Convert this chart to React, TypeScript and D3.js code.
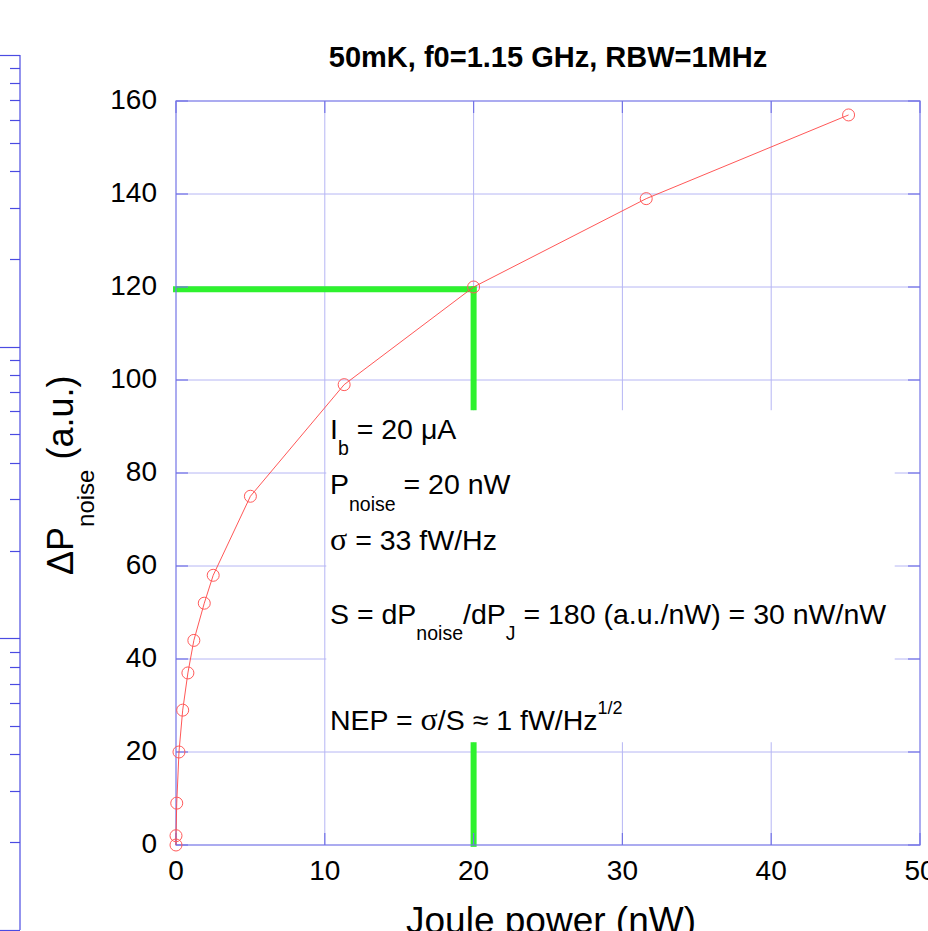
import React, { useEffect, useRef } from 'react'
import * as d3 from 'd3'

// Joule power (nW) vs change in noise power (a.u.)
const joulePower = [0, 0, 0.05, 0.2, 0.45, 0.8, 1.2, 1.9, 2.5, 5.0, 11.3, 20.0, 31.6, 45.2]
const deltaPnoise = [0, 2, 9, 20, 29, 37, 44, 52, 58, 75, 99, 120, 139, 157]

const xTicks = [0, 10, 20, 30, 40, 50]
const yTicks = [0, 20, 40, 60, 80, 100, 120, 140, 160]

// operating point marked in green
const markX = 20
const markY = 119.5

const title = '50mK, f0=1.15 GHz, RBW=1MHz'

const W = 928
const H = 931
const FONT = '"Liberation Sans", Arial, Helvetica, sans-serif'
const SYMBOL = '"Liberation Serif", "Times New Roman", serif'

export default function App() {
  const ref = useRef(null)

  useEffect(() => {
    const svg = d3.select(ref.current)
    svg.selectAll('*').remove()

    const x = d3.scaleLinear().domain([0, 50]).range([176, 920])
    const y = d3.scaleLinear().domain([0, 160]).range([845, 101])

    // leftover log axis of the neighbouring plot
    const logY = d3.scaleLog().domain([1, 1000]).range([930, 55])
    const left = svg.append('g').attr('stroke', '#4b4be2').attr('stroke-width', 1.2)
    left.append('line').attr('x1', 20).attr('x2', 20).attr('y1', logY(1000)).attr('y2', logY(1))
    logY.ticks().forEach(t => {
      const major = Math.abs(Math.log10(t) % 1) < 1e-9
      left.append('line')
        .attr('x1', major ? 0 : 10).attr('x2', 20)
        .attr('y1', Math.round(logY(t)) + 0.5).attr('y2', Math.round(logY(t)) + 0.5)
    })

    // grid
    const grid = svg.append('g').attr('stroke', '#b6b6f4').attr('stroke-width', 1)
    xTicks.slice(1, -1).forEach(t => {
      grid.append('line').attr('x1', x(t)).attr('x2', x(t)).attr('y1', y(0)).attr('y2', y(160))
    })
    yTicks.slice(1, -1).forEach(t => {
      grid.append('line').attr('x1', x(0)).attr('x2', x(50)).attr('y1', y(t)).attr('y2', y(t))
    })

    // white box behind the annotation
    svg.append('rect')
      .attr('x', x(10.1)).attr('y', y(93.5))
      .attr('width', x(48.3) - x(10.1)).attr('height', y(22.1) - y(93.5))
      .attr('fill', '#fff')

    // green markers
    const green = svg.append('g').attr('stroke', '#2ef22e').attr('stroke-width', 6).attr('fill', 'none')
    green.append('path')
      .attr('d', `M${x(-0.2)},${y(markY)}H${x(markX) + 3}`)
    green.append('line')
      .attr('x1', x(markX)).attr('x2', x(markX)).attr('y1', y(markY) - 3).attr('y2', y(93.5))
    green.append('line')
      .attr('x1', x(markX)).attr('x2', x(markX)).attr('y1', y(22.1)).attr('y2', y(-0.4))

    // frame and inner ticks
    const frame = svg.append('g').attr('stroke', '#7474e6').attr('stroke-width', 1.2).attr('fill', 'none')
    frame.append('rect')
      .attr('x', x(0)).attr('y', y(160)).attr('width', x(50) - x(0)).attr('height', y(0) - y(160))
    xTicks.forEach(t => {
      frame.append('line').attr('x1', x(t)).attr('x2', x(t)).attr('y1', y(0)).attr('y2', y(0) - 12)
      frame.append('line').attr('x1', x(t)).attr('x2', x(t)).attr('y1', y(160)).attr('y2', y(160) + 12)
    })
    yTicks.forEach(t => {
      frame.append('line').attr('x1', x(0)).attr('x2', x(0) + 12).attr('y1', y(t)).attr('y2', y(t))
      frame.append('line').attr('x1', x(50)).attr('x2', x(50) - 12).attr('y1', y(t)).attr('y2', y(t))
    })

    // data
    const pts = joulePower.map((p, i) => [p, deltaPnoise[i]])
    svg.append('path')
      .datum(pts)
      .attr('fill', 'none')
      .attr('stroke', '#ff4444')
      .attr('stroke-width', 0.9)
      .attr('d', d3.line().x(d => x(d[0])).y(d => y(d[1])))
    svg.append('g')
      .selectAll('circle')
      .data(pts)
      .join('circle')
      .attr('cx', d => x(d[0]))
      .attr('cy', d => y(d[1]))
      .attr('r', 6)
      .attr('fill', 'none')
      .attr('stroke', '#ff5a5a')
      .attr('stroke-width', 1)

    // tick labels
    const labels = svg.append('g').attr('font-family', FONT).attr('font-size', 28).attr('fill', '#000')
    xTicks.forEach(t => {
      labels.append('text').attr('x', x(t)).attr('y', 880).attr('text-anchor', 'middle').text(t)
    })
    yTicks.forEach(t => {
      labels.append('text').attr('x', 157).attr('y', y(t) + 8).attr('text-anchor', 'end').text(t)
    })

    // title
    svg.append('text')
      .attr('x', 548).attr('y', 67)
      .attr('text-anchor', 'middle')
      .attr('font-family', FONT).attr('font-weight', 'bold').attr('font-size', 29)
      .text(title)

    // axis titles
    svg.append('text')
      .attr('x', 551).attr('y', 933)
      .attr('text-anchor', 'middle')
      .attr('font-family', FONT).attr('font-size', 37)
      .text('Joule power (nW)')

    const yt = svg.append('text')
      .attr('transform', 'translate(73,575) rotate(-90)')
      .attr('font-family', FONT).attr('font-size', 36)
    yt.append('tspan').text('ΔP')
    yt.append('tspan').attr('font-size', 24).attr('dy', 21).text('noise')
    yt.append('tspan').attr('dy', -21).text(' (a.u.)')

    // annotation
    const ann = svg.append('g').attr('font-family', FONT).attr('font-size', 28.5).attr('fill', '#000')
    const ax = x(0) + 154
    const sub = 19.5

    const l1 = ann.append('text').attr('x', ax).attr('y', y(87.3))
    l1.append('tspan').text('I')
    l1.append('tspan').attr('font-size', sub).attr('dy', 16).text('b')
    l1.append('tspan').attr('dy', -16).text(' = 20 μA')

    const l2 = ann.append('text').attr('x', ax).attr('y', y(75.5))
    l2.append('tspan').text('P')
    l2.append('tspan').attr('font-size', sub).attr('dy', 17).text('noise')
    l2.append('tspan').attr('dy', -17).text(' = 20 nW')

    const l3 = ann.append('text').attr('x', ax).attr('y', y(63.4))
    l3.append('tspan').attr('font-family', SYMBOL).attr('font-size', 32).text('σ')
    l3.append('tspan').text(' = 33 fW/Hz')

    const l4 = ann.append('text').attr('x', ax).attr('y', y(47.6))
    l4.append('tspan').text('S = dP')
    l4.append('tspan').attr('font-size', sub).attr('dy', 16).text('noise')
    l4.append('tspan').attr('dy', -16).text('/dP')
    l4.append('tspan').attr('font-size', sub).attr('dy', 16).text('J')
    l4.append('tspan').attr('dy', -16).text(' = 180 (a.u./nW) = 30 nW/nW')

    const l5 = ann.append('text').attr('x', ax).attr('y', y(24.7))
    l5.append('tspan').text('NEP = ')
    l5.append('tspan').attr('font-family', SYMBOL).attr('font-size', 32).text('σ')
    l5.append('tspan').text('/S ≈ 1 fW/Hz')
    l5.append('tspan').attr('font-size', 18).attr('dy', -16).text('1/2')
  }, [])

  return (
    <svg
      ref={ref}
      width={W}
      height={H}
      style={{ position: 'absolute', left: 0, top: 0, background: '#fff' }}
    />
  )
}
